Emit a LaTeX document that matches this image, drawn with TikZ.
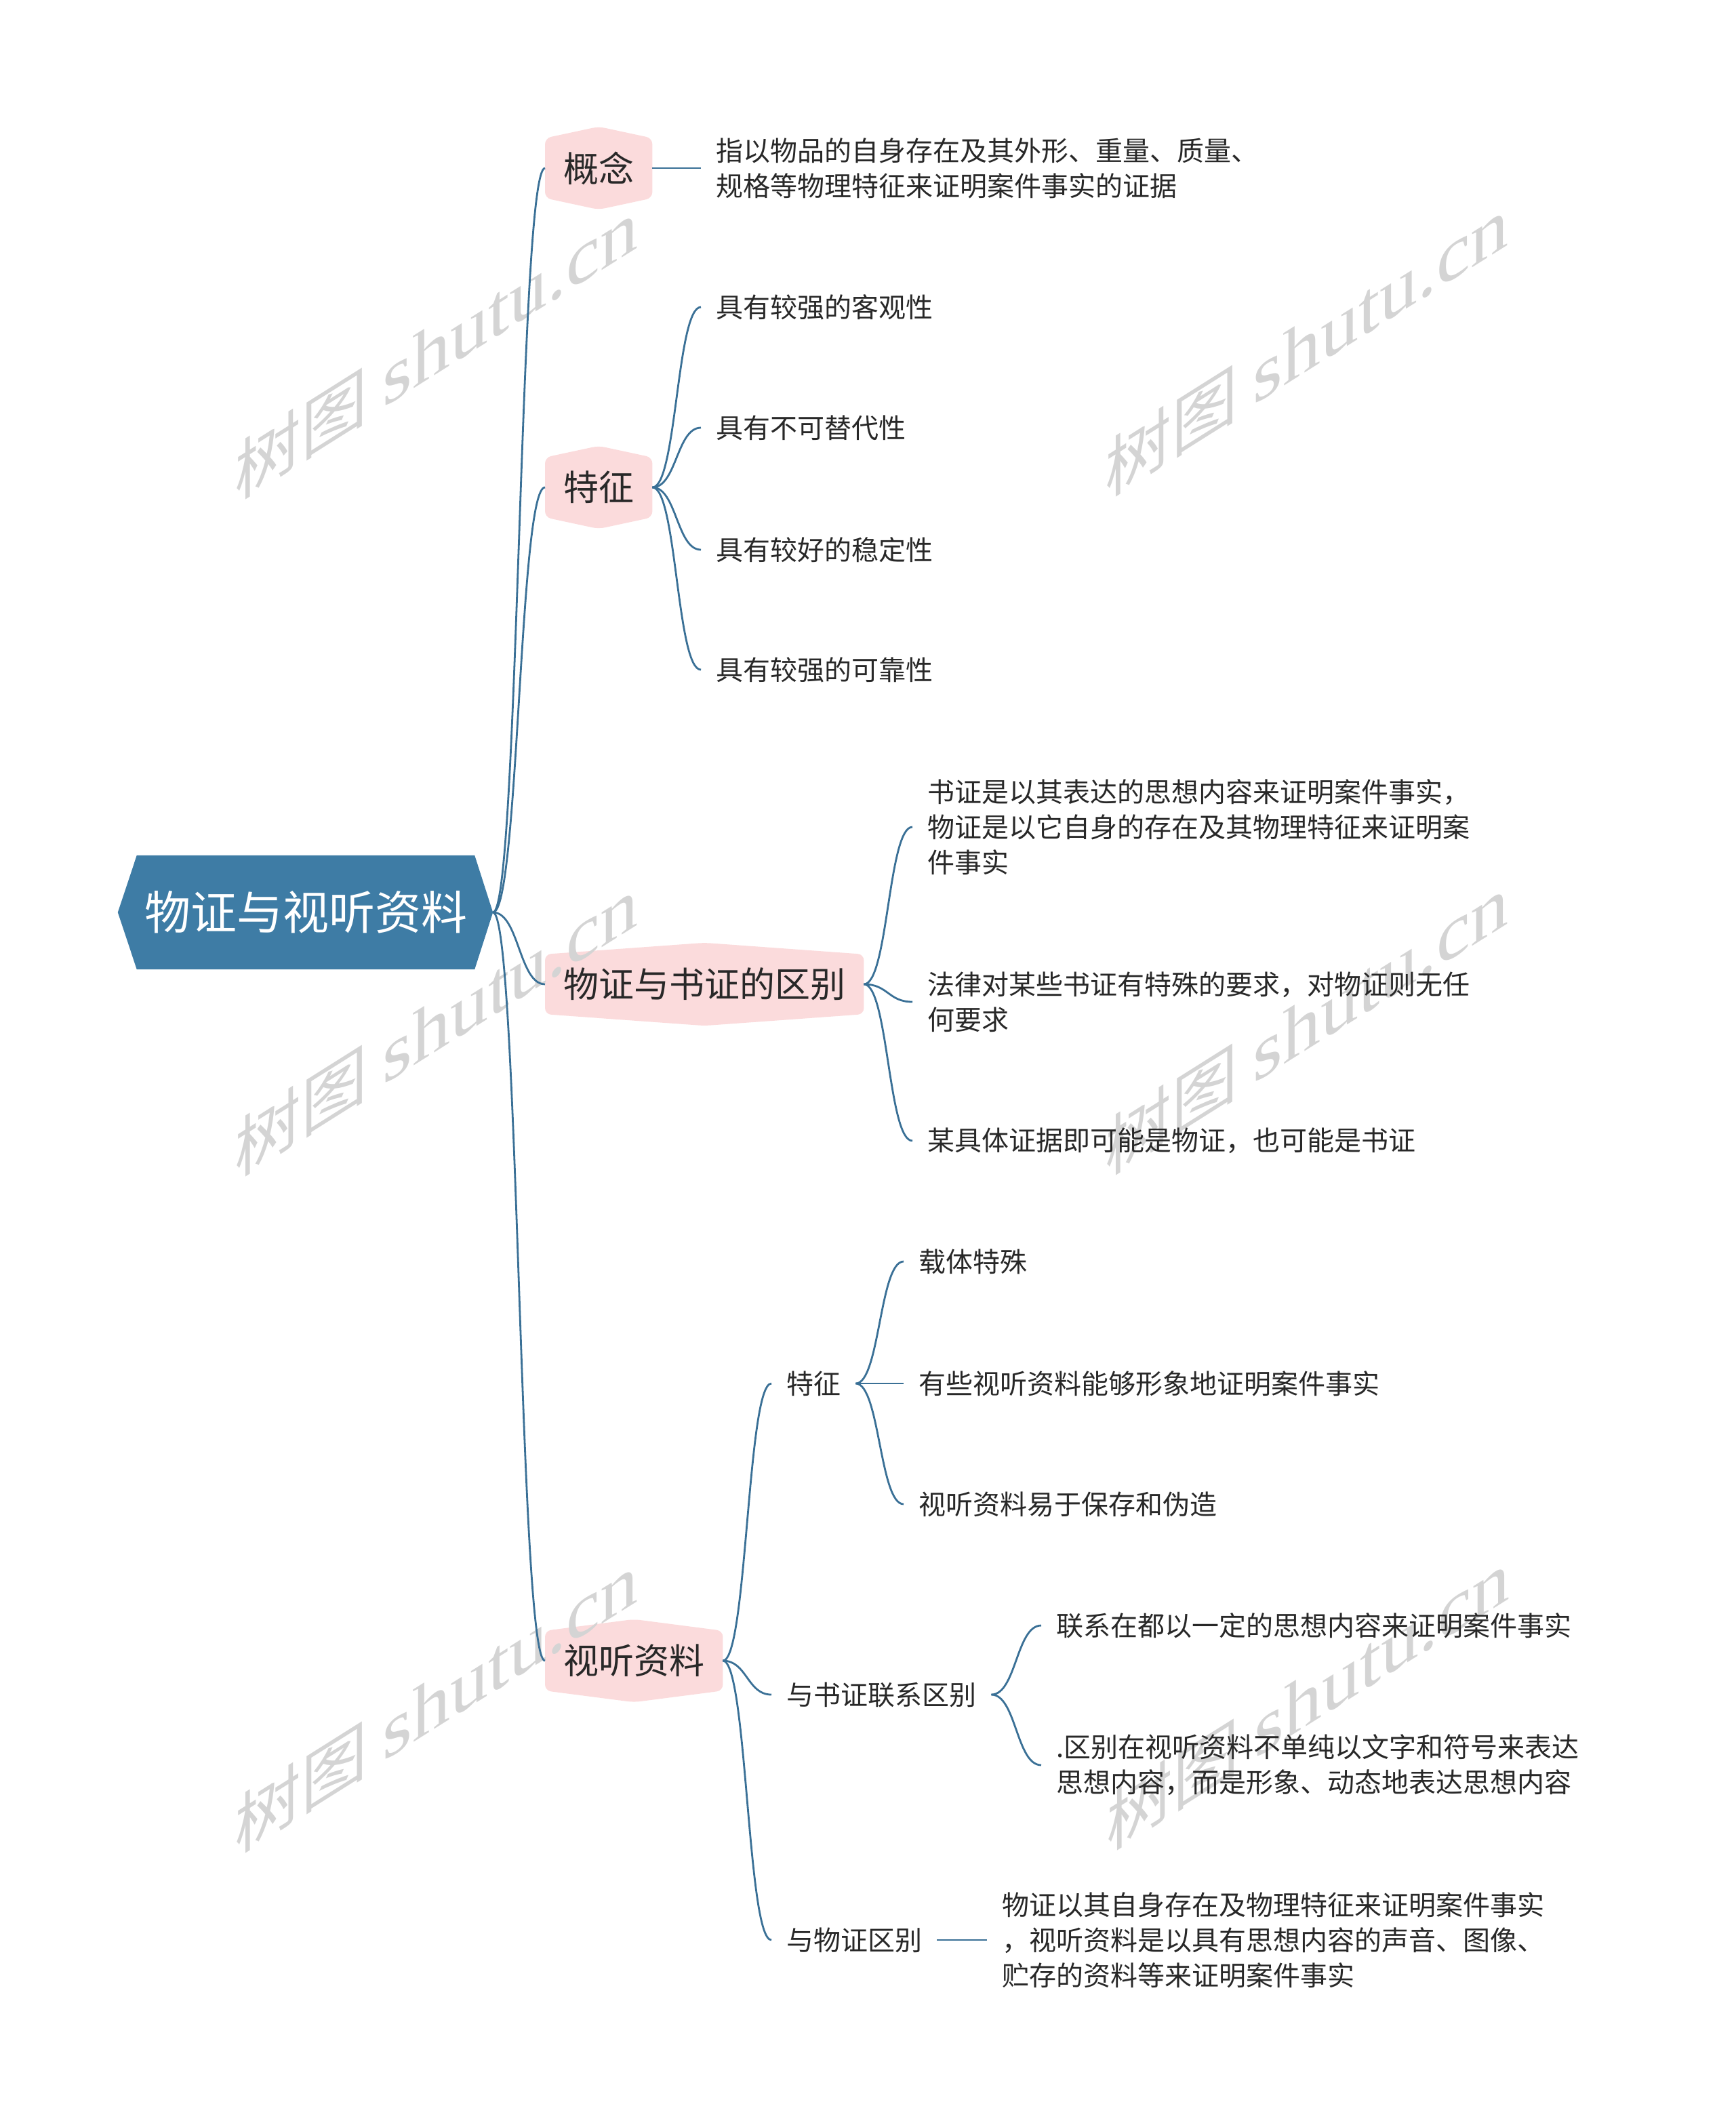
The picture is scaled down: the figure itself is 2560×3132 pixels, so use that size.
\documentclass[tikz,border=0pt]{standalone}
\usepackage{fontspec}
\setmainfont{Noto Sans CJK SC}
\newfontfamily\wmserif{Liberation Serif}
\usetikzlibrary{calc,backgrounds}
\pgfdeclarelayer{wm}
\pgfsetlayers{background,wm,main}
\definecolor{rootblue}{RGB}{62,124,165}
\definecolor{linec}{RGB}{58,112,150}
\definecolor{pinkc}{RGB}{251,219,220}
\definecolor{txtc}{RGB}{40,40,40}
\definecolor{wmgray}{RGB}{212,212,212}
\newcommand\mmlink[2]{\draw[conn] let \p1=(#1), \p2=(#2), \p3=($(#1)!0.5!(#2)$) in (\p1) .. controls (\x3,\y1) and (\x3,\y2) .. (\p2);}
\newcommand\pinkbg[1]{\fill[pinkc, rounded corners=9pt] (#1.north west) -- ([yshift=17pt]#1.north) -- (#1.north east) -- (#1.south east) -- ([yshift=-17pt]#1.south) -- (#1.south west) -- cycle;}
\newcommand\wmark[1]{\node[wmstyle] at (#1) {树图 {\wmserif\fontsize{112pt}{112pt}\selectfont shutu.cn}};}
\begin{document}
\begin{tikzpicture}[x=1pt,y=-1pt,
  rootn/.style={minimum width=498pt, minimum height=168pt, inner sep=0pt, text=white, font=\fontsize{68pt}{80pt}\selectfont},
  lone/.style={anchor=west, inner xsep=27pt, inner ysep=0pt, minimum height=88pt, text=txtc, font=\fontsize{52pt}{60pt}\selectfont},
  leaf/.style={anchor=west, inner xsep=22pt, inner ysep=0pt, align=left, text=txtc, font=\fontsize{40pt}{52pt}\selectfont},
  conn/.style={draw=linec, line width=2.8pt},
  wmstyle/.style={text=wmgray, font=\fontsize{98pt}{112pt}\selectfont, yslant=0.63, inner sep=0pt}]
\useasboundingbox (0,0) rectangle (2560,3132);

% root
\node[rootn] (root) at (451,1346) {物证与视听资料};
\coordinate (rootE) at ([xshift=27pt]root.east);

% level 1
\node[lone] (gn) at (804,248) {概念};
\node[lone] (tz) at (804,719) {特征};
\node[lone] (qb) at (804,1452) {物证与书证的区别};
\node[lone] (st) at (804,2450) {视听资料};

% leaves of 概念
\node[leaf] (gn1) at (1034,248) {指以物品的自身存在及其外形、重量、质量、\\规格等物理特征来证明案件事实的证据};
% leaves of 特征
\node[leaf] (tz1) at (1034,453) {具有较强的客观性};
\node[leaf] (tz2) at (1034,631) {具有不可替代性};
\node[leaf] (tz3) at (1034,811) {具有较好的稳定性};
\node[leaf] (tz4) at (1034,988) {具有较强的可靠性};
% leaves of 物证与书证的区别
\node[leaf] (qb1) at (1346,1220) {书证是以其表达的思想内容来证明案件事实，\\物证是以它自身的存在及其物理特征来证明案\\件事实};
\node[leaf] (qb2) at (1346,1478) {法律对某些书证有特殊的要求，对物证则无任\\何要求};
\node[leaf] (qb3) at (1346,1683) {某具体证据即可能是物证，也可能是书证};
% children of 视听资料
\node[leaf] (s1) at (1138,2041) {特征};
\node[leaf] (s2) at (1138,2500) {与书证联系区别};
\node[leaf] (s3) at (1138,2862) {与物证区别};
\node[leaf] (s11) at (1333,1861) {载体特殊};
\node[leaf] (s12) at (1333,2041) {有些视听资料能够形象地证明案件事实};
\node[leaf] (s13) at (1333,2219) {视听资料易于保存和伪造};
\node[leaf] (s21) at (1536,2398) {联系在都以一定的思想内容来证明案件事实};
\node[leaf] (s22) at (1536,2604) {.区别在视听资料不单纯以文字和符号来表达\\思想内容，而是形象、动态地表达思想内容};
\node[leaf] (s31) at (1456,2862) {物证以其自身存在及物理特征来证明案件事实\\，视听资料是以具有思想内容的声音、图像、\\贮存的资料等来证明案件事实};

% backgrounds
\begin{pgfonlayer}{background}
  \fill[rootblue] (root.north west) -- (root.north east) -- (rootE) -- (root.south east) -- (root.south west) -- ([xshift=-28pt]root.west) -- cycle;
  \pinkbg{gn}
  \pinkbg{tz}
  \pinkbg{qb}
  \pinkbg{st}
\end{pgfonlayer}

% watermarks
\begin{pgfonlayer}{wm}
  \wmark{644,515}
  \wmark{1928,511}
  \wmark{644,1514}
  \wmark{1928,1512}
  \wmark{644,2512}
  \wmark{1930,2508}
\end{pgfonlayer}

% connectors
\mmlink{rootE}{gn.west}
\mmlink{rootE}{tz.west}
\mmlink{rootE}{qb.west}
\mmlink{rootE}{st.west}
\mmlink{gn.east}{gn1.west}
\mmlink{tz.east}{tz1.west}
\mmlink{tz.east}{tz2.west}
\mmlink{tz.east}{tz3.west}
\mmlink{tz.east}{tz4.west}
\mmlink{qb.east}{qb1.west}
\mmlink{qb.east}{qb2.west}
\mmlink{qb.east}{qb3.west}
\mmlink{st.east}{s1.west}
\mmlink{st.east}{s2.west}
\mmlink{st.east}{s3.west}
\mmlink{s1.east}{s11.west}
\mmlink{s1.east}{s12.west}
\mmlink{s1.east}{s13.west}
\mmlink{s2.east}{s21.west}
\mmlink{s2.east}{s22.west}
\mmlink{s3.east}{s31.west}
\end{tikzpicture}
\end{document}
